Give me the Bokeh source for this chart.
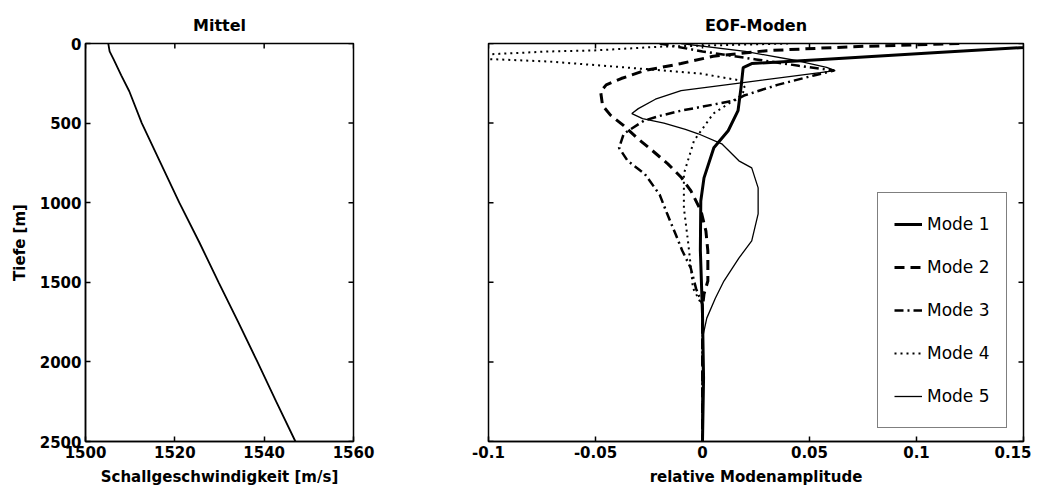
import math
from bokeh.plotting import figure
from bokeh.models import Range1d, Legend, LegendItem, FixedTicker
from bokeh.layouts import row
from bokeh.embed import file_html
from bokeh.resources import INLINE

# ---- data ----
mean_depth = [0, 50, 100, 200, 300, 500, 750, 1000, 1250, 1500, 1750, 2000, 2250, 2500]
mean_speed = [1505.1, 1505.4, 1506.3, 1508.0, 1509.8, 1512.6, 1516.8, 1521.0, 1525.5, 1529.8, 1534.2, 1538.5, 1542.7, 1547.0]

mode1_depth = [0, 25, 60, 100, 126, 151, 277, 422, 548, 655, 844, 989, 1300, 1700, 2100, 2500]
mode1_amp = [0.16, 0.15, 0.106, 0.056, 0.023, 0.019, 0.018, 0.0166, 0.012, 0.0053, 0.0007, -0.0008, -0.001, 0.0, 0.0005, 0.0]

mode2_depth = [0, 20, 45, 80, 126, 170, 220, 260, 302, 390, 450, 516, 600, 680, 756, 840, 926, 1052, 1178, 1303, 1492, 1574, 1660, 2500]
mode2_amp = [0.12, 0.07, 0.03, 0.005, -0.010, -0.027, -0.038, -0.045, -0.0476, -0.0467, -0.043, -0.0368, -0.030, -0.0228, -0.0162, -0.010, -0.0054, -0.0007, 0.0016, 0.0025, 0.0025, 0.0007, 0.0, 0.0]

mode3_depth = [0, 50, 100, 140, 170, 201, 260, 327, 359, 422, 453, 485, 567, 655, 737, 819, 950, 1070, 1200, 1300, 1410, 1540, 1640, 2500]
mode3_amp = [-0.02, 0.0, 0.025, 0.045, 0.0615, 0.052, 0.035, 0.0194, 0.0147, -0.010, -0.0195, -0.0274, -0.0368, -0.039, -0.035, -0.027, -0.020, -0.0165, -0.0125, -0.0095, -0.0055, -0.003, 0.0, 0.0]

mode4_depth = [0, 20, 44, 50, 65, 80, 95, 113, 145, 157, 189, 233, 283, 327, 441, 611, 819, 1033, 1240, 1410, 1536, 1650, 2500]
mode4_amp = [0.04, -0.02, -0.051, -0.072, -0.095, -0.115, -0.105, -0.072, -0.041, -0.030, -0.001, 0.018, 0.020, 0.018, 0.005, -0.004, -0.0087, -0.0087, -0.0068, -0.0054, -0.0045, 0.0, 0.0]

mode5_depth = [0, 50, 110, 150, 170, 183, 246, 296, 350, 409, 440, 472, 500, 540, 567, 630, 737, 781, 907, 1070, 1240, 1348, 1492, 1600, 1725, 1850, 2500]
mode5_amp = [-0.01, 0.02, 0.045, 0.058, 0.062, 0.055, 0.019, -0.010, -0.022, -0.030, -0.033, -0.028, -0.018, -0.008, -0.002, 0.009, 0.017, 0.023, 0.026, 0.026, 0.023, 0.017, 0.010, 0.006, 0.002, 0.0, 0.0]

mode_labels = ["Mode 1", "Mode 2", "Mode 3", "Mode 4", "Mode 5"]

depth_ticks = [0, 500, 1000, 1500, 2000, 2500]
speed_ticks = [1500, 1520, 1540, 1560]
amp_ticks = [-0.1, -0.05, 0, 0.05, 0.1, 0.15]
amp_labels = {-0.1: "-0.1", -0.05: "-0.05", 0: "0", 0.05: "0.05", 0.1: "0.1", 0.15: "0.15"}

depth_lim = (2500, 0)
speed_lim = (1500, 1560)
amp_lim = (-0.1, 0.15)

FONT = "DejaVu Sans"


def style_axis(ax, ticks, overrides=None, label_standoff=4):
    ax.ticker = FixedTicker(ticks=ticks)
    ax.major_tick_in = 5
    ax.major_tick_out = 0
    ax.minor_tick_in = 0
    ax.minor_tick_out = 0
    ax.axis_line_width = 1.5
    ax.major_tick_line_width = 1.5
    ax.axis_line_color = "black"
    ax.major_label_text_font = FONT
    ax.major_label_text_font_style = "bold"
    ax.major_label_text_font_size = "15px"
    ax.major_label_text_color = "black"
    ax.major_label_standoff = 4
    ax.axis_label_text_font = FONT
    ax.axis_label_text_font_style = "bold"
    ax.axis_label_text_font_size = "15px"
    ax.axis_label_text_color = "black"
    ax.axis_label_standoff = label_standoff
    if overrides:
        ax.major_label_overrides = overrides


def frame_ticks(p, xs, ys, vertical):
    # short inward tick marks on the frame edges (MATLAB-style box ticks)
    p.scatter(xs, ys, marker="dash", size=10, line_color="black", line_width=1.5,
              angle=(math.pi / 2 if vertical else 0.0))


def make_fig(width, xr, min_left, min_right, title, y_loc="left"):
    p = figure(width=width, height=489, x_range=Range1d(*xr), y_range=Range1d(*depth_lim),
               output_backend="svg", toolbar_location=None, y_axis_location=y_loc,
               min_border_left=min_left, min_border_right=min_right,
               min_border_top=43, min_border_bottom=48, title=title)
    p.title.align = "center"
    p.title.text_font = FONT
    p.title.text_font_style = "bold"
    p.title.text_font_size = "16px"
    p.title.text_color = "black"
    p.title.standoff = 18
    p.xgrid.visible = False
    p.ygrid.visible = False
    p.outline_line_color = "black"
    p.outline_line_width = 1.5
    p.background_fill_color = "white"
    p.border_fill_color = "white"
    return p


# ---- left panel ----
p1 = make_fig(408, speed_lim, 85, 55, "Mittel")
p1.line(mean_speed, mean_depth, line_color="black", line_width=1.8)
style_axis(p1.xaxis[0], speed_ticks, label_standoff=7)
style_axis(p1.yaxis[0], depth_ticks, label_standoff=8)
p1.xaxis[0].axis_label = "Schallgeschwindigkeit [m/s]"
p1.yaxis[0].axis_label = "Tiefe [m]"
frame_ticks(p1, [speed_lim[1]] * len(depth_ticks), depth_ticks, False)
frame_ticks(p1, speed_ticks, [depth_lim[1]] * len(speed_ticks), True)

# ---- right panel ----
p2 = make_fig(623, amp_lim, 80, 8, "EOF-Moden", y_loc=None)
r1 = p2.line(mode1_amp, mode1_depth, line_color="black", line_width=3)
r2 = p2.line(mode2_amp, mode2_depth, line_color="black", line_width=3, line_dash="10 6")
r3 = p2.line(mode3_amp, mode3_depth, line_color="black", line_width=2.5, line_dash="9 4 2 4")
r4 = p2.line(mode4_amp, mode4_depth, line_color="black", line_width=2, line_dash="2 4")
r5 = p2.line(mode5_amp, mode5_depth, line_color="black", line_width=1.3)
style_axis(p2.xaxis[0], amp_ticks, overrides=amp_labels, label_standoff=7)
p2.xaxis[0].axis_label = "relative Modenamplitude"
frame_ticks(p2, [amp_lim[0]] * len(depth_ticks), depth_ticks, False)
frame_ticks(p2, [amp_lim[1]] * len(depth_ticks), depth_ticks, False)
frame_ticks(p2, amp_ticks, [depth_lim[1]] * len(amp_ticks), True)

legend = Legend(items=[LegendItem(label=lab, renderers=[r])
                       for lab, r in zip(mode_labels, [r1, r2, r3, r4, r5])],
                location=(389, 13))
legend.label_text_font = FONT
legend.label_text_font_size = "17px"
legend.label_text_color = "black"
legend.glyph_width = 28
legend.glyph_height = 30
legend.label_height = 30
legend.spacing = 13
legend.padding = 16
legend.margin = 0
legend.label_standoff = 5
legend.border_line_color = "black"
legend.border_line_width = 1.5
legend.background_fill_alpha = 1.0
p2.add_layout(legend, "center")

layout = row(p1, p2)
open("out.html", "w").write(file_html(layout, INLINE))
